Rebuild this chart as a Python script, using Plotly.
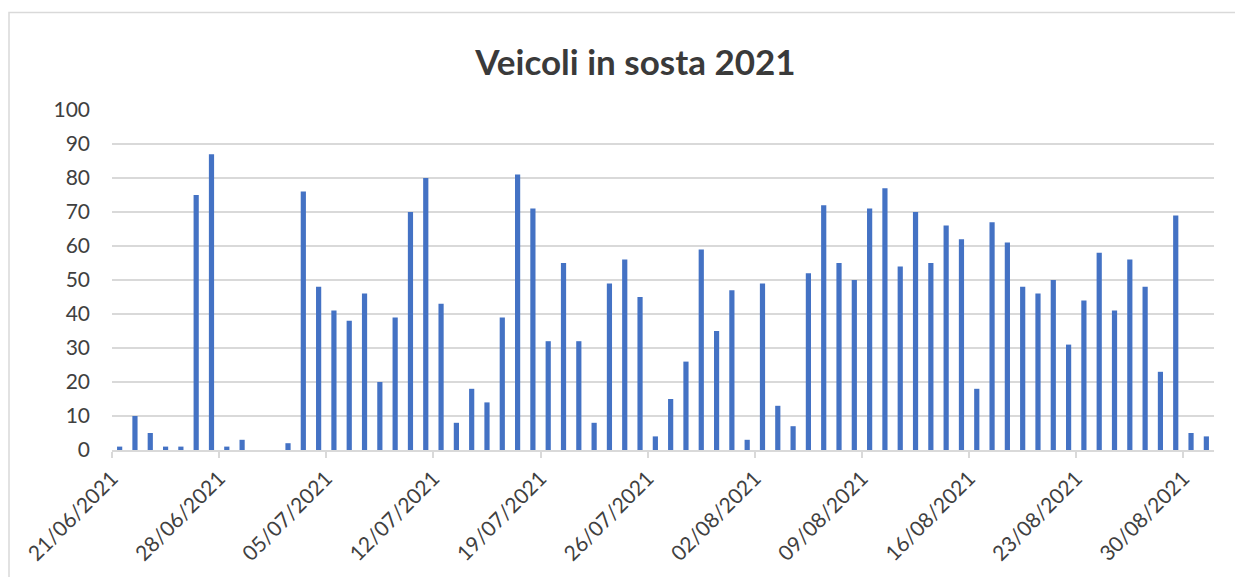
import pandas as pd
import plotly.graph_objects as go

# Daily values, 21/06/2021 -> 31/08/2021
start_date = "2021-06-21"
values = [
    1, 10, 5, 1, 1, 75, 87,          # 21/06 - 27/06
    1, 3, 0, 0, 2, 76, 48,           # 28/06 - 04/07
    41, 38, 46, 20, 39, 70, 80,      # 05/07 - 11/07
    43, 8, 18, 14, 39, 81, 71,       # 12/07 - 18/07
    32, 55, 32, 8, 49, 56, 45,       # 19/07 - 25/07
    4, 15, 26, 59, 35, 47, 3,        # 26/07 - 01/08
    49, 13, 7, 52, 72, 55, 50,       # 02/08 - 08/08
    71, 77, 54, 70, 55, 66, 62,      # 09/08 - 15/08
    18, 67, 61, 48, 46, 50, 31,      # 16/08 - 22/08
    44, 58, 41, 56, 48, 23, 69,      # 23/08 - 29/08
    5, 4,                            # 30/08 - 31/08
]
dates = pd.date_range(start_date, periods=len(values), freq="D")
label_dates = dates[::7]
tick_labels = [d.strftime("%d/%m/%Y") for d in label_dates]
y_ticks = list(range(0, 101, 10))

title_text = "Veicoli in sosta 2021"

half_day = pd.Timedelta(hours=12)

fig = go.Figure()
fig.add_trace(go.Bar(
    x=dates,
    y=values,
    marker=dict(color="#4472C4", line=dict(width=0)),
    width=0.34 * 86400000,
))

OFF = 8  # page body margin
W, H = 1243 - OFF, 577 - OFF
ml, mt = 112 - OFF, 110 - OFF
pw, ph = 1102, 342
mr = W - ml - pw
mb = H - mt - ph

fig.update_layout(
    width=W, height=H,
    margin=dict(l=ml, r=mr, t=mt, b=mb),
    paper_bgcolor="white",
    plot_bgcolor="white",
    showlegend=False,
    font=dict(family="Lato, 'Open Sans', sans-serif", color="#404040"),
    title=dict(
        text="<b>" + title_text + "</b>",
        x=(635.5 - OFF) / W, xanchor="center",
        y=1 - (63 - OFF) / H, yanchor="middle", yref="container",
        font=dict(size=35, color="#3a3a3a"),
    ),
    xaxis=dict(
        type="date",
        range=[dates[0] - half_day, dates[-1] + half_day],
        tickvals=[d - half_day for d in label_dates],
        ticktext=tick_labels,
        tickangle=-45,
        tickfont=dict(size=21, color="#404040"),
        ticks="outside", ticklen=6, tickcolor="#d9d9d9", tickwidth=1.5,
        showline=True, linecolor="#d9d9d9", linewidth=1.6,
        showgrid=False, zeroline=False,
    ),
    yaxis=dict(
        range=[0, 100],
        tickvals=y_ticks,
        tickfont=dict(size=21, color="#404040"),
        showgrid=True, gridcolor="#d9d9d9", gridwidth=1.6,
        zeroline=False, showline=False,
        ticks="", ticklabelstandoff=21,
    ),
    shapes=[
        dict(type="rect", xref="paper", yref="paper",
             x0=(9 - OFF - ml) / pw, x1=(W + 20 - ml) / pw,
             y0=-(H + 20 - mt - ph) / ph, y1=(mt + ph - (12 - OFF)) / ph,
             line=dict(color="#d9d9d9", width=1.5), fillcolor="rgba(0,0,0,0)",
             layer="below"),
    ],
)

fig.write_html("out.html")
